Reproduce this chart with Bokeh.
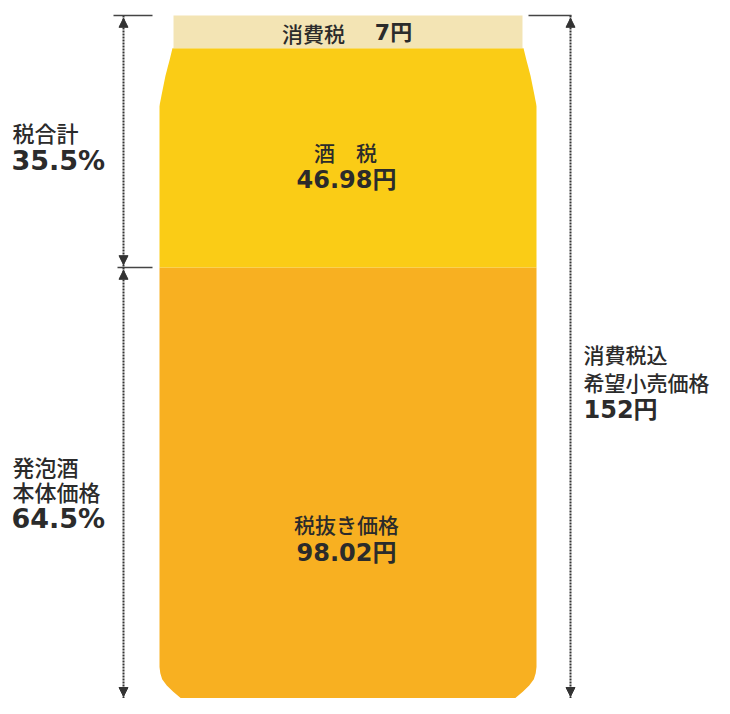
import numpy as np
from bokeh.plotting import figure
from bokeh.models import Range1d, Arrow, NormalHead
from bokeh.core.properties import value
from bokeh.embed import file_html
from bokeh.resources import INLINE

# ---------------- data ----------------
segments = ["税抜き価格", "酒税", "消費税"]          # bottom -> top
amounts = [98.02, 46.98, 7.0]                        # 円
amount_labels = ["98.02円", "46.98円", "7円"]
total_price = 152.0
total_label = "152円"
share_names = [["発泡酒", "本体価格"], ["税合計"]]
share_values = ["64.5%", "35.5%"]
right_title = ["消費税込", "希望小売価格"]

# ---------------- style / layout ----------------
W, H = 714, 698
PXPY = 252 / 53.98                    # pixels per yen
Y0PX = 267 + 98.02 * PXPY             # image y of 0 yen


def yy(py):
    return (Y0PX - py) / PXPY


seg_colors = ["#F8B021", "#FACC16", "#F3E4B4"]
TXT = "#2b2b2b"
JP = value("Noto Sans CJK JP Medium, Noto Sans CJK JP")
NUM = value("DejaVu Sans, Noto Sans CJK JP")

# can outline (left edge, in px) as a function of height (px in image)
prof_py = [760, 714, 706, 700, 694, 687, 680, 670, 105, 90, 75, 60, 47.5, 47.4, 0]
prof_px = [191, 189, 187, 183, 176, 168, 162, 159, 159, 162, 165, 169, 172, 173, 173]
prof_y = np.array([yy(p) for p in prof_py])
prof_x = np.array(prof_px, dtype=float)
CENTER2 = 695.0  # left + right


def left_edge(y):
    return np.interp(y, prof_y, prof_x)


p = figure(width=W, height=H, output_backend="svg", toolbar_location=None,
           x_range=Range1d(0, W), y_range=Range1d(yy(H), yy(0)),
           min_border=0)
p.axis.visible = False
p.grid.visible = False
p.outline_line_color = None
p.background_fill_color = "white"

# ---------------- can segments from data ----------------
bottoms = np.concatenate([[0.0], np.cumsum(amounts)[:-1]])
tops = np.cumsum(amounts)
xs_list, ys_list = [], []
for i, (b, t) in enumerate(zip(bottoms, tops)):
    lo = b - (6 if i == 0 else 0)
    ys = np.linspace(lo, t, 80)
    lx = left_edge(ys)
    rx = CENTER2 - lx
    xs_list.append(list(lx) + list(rx[::-1]))
    ys_list.append(list(ys) + list(ys[::-1]))
p.patches(xs=xs_list, ys=ys_list, fill_color=seg_colors, line_color=None)

# ---------------- dimension lines ----------------
ybot = yy(H)
boundary = amounts[0]
dash = "2 1"
# left
p.segment(x0=[123], y0=[total_price], x1=[123], y1=[ybot], line_color="#333",
          line_width=2, line_dash=dash)
p.segment(x0=[113, 117], y0=[total_price, boundary], x1=[152, 152],
          y1=[total_price, boundary], line_color="#444", line_width=1.3)
# right
p.segment(x0=[570], y0=[total_price], x1=[570], y1=[ybot], line_color="#333",
          line_width=2, line_dash=dash)
p.segment(x0=[528], y0=[total_price], x1=[571], y1=[total_price],
          line_color="#444", line_width=1.3)


def head(x, y_tip, up):
    d = 0.5 if up else -0.5
    p.add_layout(Arrow(end=NormalHead(size=9, fill_color="#333", line_color="#333"),
                       x_start=x, y_start=y_tip - d, x_end=x, y_end=y_tip,
                       line_alpha=0))


off = 0.6
head(123, total_price - off, True)
head(123, boundary + off, False)
head(123, boundary - off, True)
head(123, yy(696), False)
head(570, total_price - off, True)
head(570, yy(696), False)

# ---------------- labels ----------------


def txt(x, py, s, size, font=JP, bold=False, align="left"):
    p.text(x=[x], y=[yy(py)], text=[s], text_font=font, text_font_size=f"{size}px",
           text_font_style="bold" if bold else "normal", text_color=TXT,
           text_align=align, text_baseline="middle")


# inside can
txt(313, 32, segments[2], 21, align="center")
txt(393, 32, amount_labels[2], 22, font=NUM, bold=True, align="center")
txt(345, 151, "酒\u3000税", 21, align="center")
txt(346, 179, amount_labels[1], 24, font=NUM, bold=True, align="center")
txt(346, 523, segments[0], 21, align="center")
txt(346, 552, amount_labels[0], 24, font=NUM, bold=True, align="center")

# left side
txt(12, 131, share_names[1][0], 22)
txt(11, 160, share_values[1], 27, font=NUM, bold=True)
txt(12, 465, share_names[0][0], 22)
txt(12, 490, share_names[0][1], 22)
txt(11, 518, share_values[0], 27, font=NUM, bold=True)

# right side
txt(583, 353, right_title[0], 21)
txt(583, 381, right_title[1], 21)
txt(583, 409, total_label, 24, font=NUM, bold=True)

open("out.html", "w").write(file_html(p, INLINE))
